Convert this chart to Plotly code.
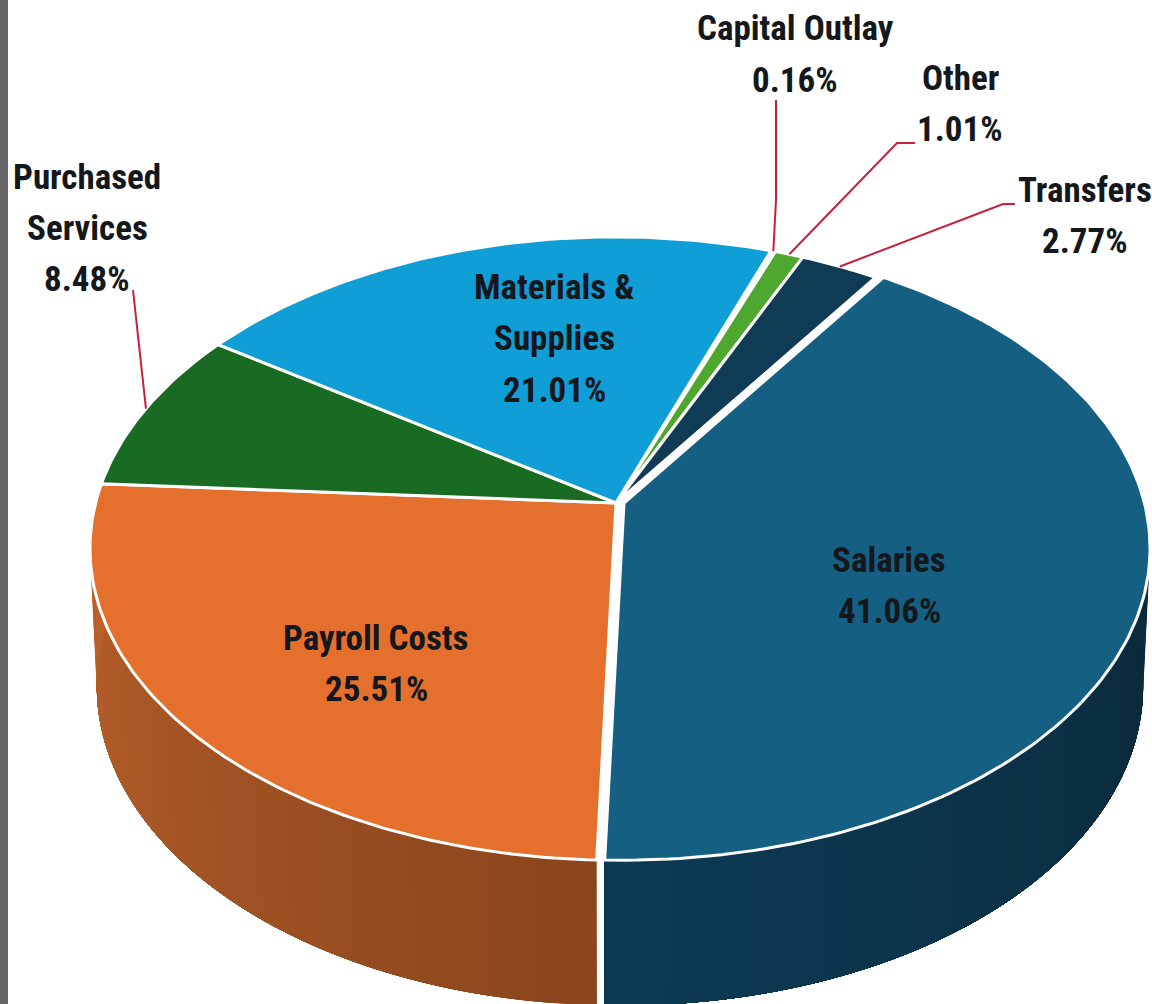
import numpy as np
import plotly.graph_objects as go

# ------------------------------------------------------------
# Data
# ------------------------------------------------------------
categories = ["Salaries", "Payroll Costs", "Purchased Services", "Materials & Supplies",
              "Capital Outlay", "Other", "Transfers"]
shares = [41.06, 25.51, 8.48, 21.01, 0.16, 1.01, 2.77]
top_colors = ["#156082", "#E5702E", "#196B24", "#0F9ED5", "#D9EEF7", "#4EA72E", "#0F3B54"]
wall_colors = {"Salaries": ("#0B2533", "#0C3A54"), "Payroll Costs": ("#8A451C", "#C2662E")}

label_lines = [
    ("Capital Outlay", 795, 28), ("0.16%", 795, 80),
    ("Other", 960, 78), ("1.01%", 960, 129),
    ("Transfers", 1085, 190), ("2.77%", 1085, 241),
    ("Purchased", 87, 177), ("Services", 87, 228), ("8.48%", 87, 279),
    ("Materials &", 554, 287), ("Supplies", 554, 338), ("21.01%", 554, 390),
    ("Salaries", 889, 560), ("41.06%", 889, 611),
    ("Payroll Costs", 376, 638), ("25.51%", 376, 689),
]
# leader start points (next to the label), ending on the rim of the slice
leaders = {
    "Capital Outlay": [(776, 100), (776, 200)],
    "Other": [(915, 143), (897, 143)],
    "Transfers": [(1015, 204), (1003, 204)],
    "Purchased Services": [(133, 290)],
}

# ------------------------------------------------------------
# Perspective of the pie
# ------------------------------------------------------------
START_ANGLE = 34.0
PERSP = 0.146
CX = 616
TOP = dict(cy=503, a=520.4, b=305)
BOTTOM = dict(cy=640, a=513.6, b=312)
SALARIES_SHIFT = 8


def project(theta, disc, shift=0):
    t = np.radians(theta)
    u, v = np.sin(t), -np.cos(t)
    w = 1 - PERSP * v
    return CX + shift + disc["a"] * u / w, disc["cy"] + disc["b"] * v / w


def mix(c0, c1, f):
    a = [int(c0[i:i + 2], 16) for i in (1, 3, 5)]
    b = [int(c1[i:i + 2], 16) for i in (1, 3, 5)]
    return "rgb(%d,%d,%d)" % tuple(round(x + (y - x) * f) for x, y in zip(a, b))


edges = START_ANGLE + np.cumsum([0] + shares) * 3.6
slices = {c: (edges[i], edges[i + 1]) for i, c in enumerate(categories)}

fig = go.Figure()


def add_wall(name, lo, hi, shift=0, reverse=False):
    # each band runs to the far end of the wall and the next one paints over it,
    # that way no seams show between the bands
    steps = np.arange(lo, hi, 2.0)
    for i, th in enumerate(steps):
        f = i / max(len(steps) - 1, 1)
        color = mix(*wall_colors[name], f)
        sweep = np.linspace(th, hi, 40)
        x0, y0 = project(sweep, TOP, shift)
        x1, y1 = project(sweep[::-1], BOTTOM, shift)
        fig.add_trace(go.Scatter(x=np.r_[x0, x1], y=np.r_[y0, y1], fill="toself", mode="none",
                                 fillcolor=color, hoverinfo="skip", showlegend=False))


# Side walls only show for the two front slices
add_wall("Salaries", 80, slices["Salaries"][1], SALARIES_SHIFT)
add_wall("Payroll Costs", slices["Payroll Costs"][0], 282)

for name, color in zip(categories, top_colors):
    lo, hi = slices[name]
    shift = SALARIES_SHIFT if name == "Salaries" else 0
    arc_x, arc_y = project(np.linspace(lo, hi, max(int(hi - lo), 2) + 1), TOP, shift)
    fig.add_trace(go.Scatter(x=np.r_[CX + shift, arc_x, CX + shift], y=np.r_[TOP["cy"], arc_y, TOP["cy"]],
                             fill="toself", mode="lines", fillcolor=color,
                             line=dict(color="white", width=3), name=name,
                             hoverinfo="skip", showlegend=False))

for name, pts in leaders.items():
    lo, hi = slices[name]
    end = project((lo + hi) / 2, TOP)
    xs = [p[0] for p in pts] + [float(end[0])]
    ys = [p[1] for p in pts] + [float(end[1])]
    fig.add_trace(go.Scatter(x=xs, y=ys, mode="lines", line=dict(color="#C8203A", width=2),
                             hoverinfo="skip", showlegend=False))

for text, x, y in label_lines:
    fig.add_annotation(x=x, y=y, text=text, showarrow=False, xanchor="center", yanchor="middle",
                       font=dict(family="Roboto Condensed", size=35, color="#14181C", weight="bold"))

# grey strip down the left edge of the screenshot
fig.add_shape(type="rect", x0=0, x1=8, y0=0, y1=1004, fillcolor="#666666", line_width=0, layer="above")

fig.update_xaxes(range=[0, 1152], visible=False, fixedrange=True)
fig.update_yaxes(range=[1004, 0], visible=False, fixedrange=True)
fig.update_layout(width=1152, height=1004, margin=dict(l=0, r=0, t=0, b=0),
                  paper_bgcolor="white", plot_bgcolor="white", showlegend=False)

fig.write_html("out.html", post_script="document.body.style.margin='0';", config={"displayModeBar": False})
